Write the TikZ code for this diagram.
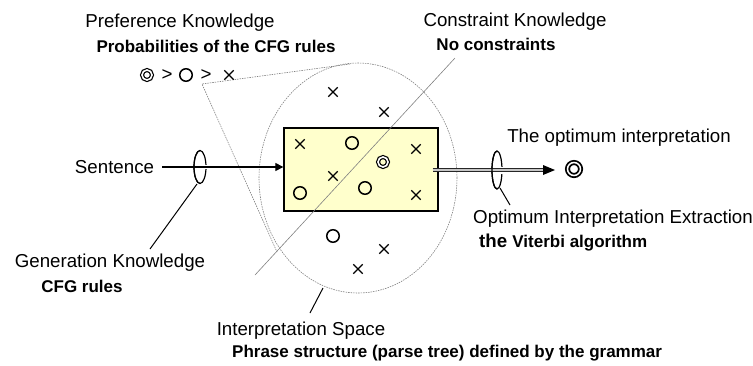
\documentclass[tikz,border=0pt]{standalone}
\usepackage{fontspec}
\setmainfont{Liberation Sans}
\usetikzlibrary{shapes.geometric,shapes.misc,arrows.meta,calc}
\definecolor{boxyellow}{RGB}{255,255,204}
\begin{document}
\begin{tikzpicture}[x=1pt,y=-1pt,
  lab/.style={font=\fontsize{18.7}{22}\selectfont, inner sep=0pt},
  blab/.style={font=\fontsize{17}{20}\selectfont\bfseries, inner sep=0pt},
  xm/.style={cross out, draw, minimum size=8pt, inner sep=0pt, line width=1.4pt},
  oc/.style={circle, draw, minimum size=12.5pt, inner sep=0pt, line width=1.5pt},
  dc/.style={circle, draw, double, double distance=1.6pt, line width=1.2pt, minimum size=10pt, inner sep=0pt},
  bigdc/.style={circle, draw, double, double distance=1.5pt, line width=1.8pt, minimum size=13pt, inner sep=0pt},
  thinline/.style={draw=gray, line width=0.6pt},
  dotline/.style={draw=gray, line width=0.6pt, dash pattern=on 1.5pt off 1pt},
  ring/.style={ellipse, draw, line width=1.2pt, inner sep=0pt, outer sep=0pt},
  pointer/.style={draw=black, line width=1pt},
  arr/.style={line width=1.2pt, -{Triangle[length=8pt,width=8pt]}},
]
\useasboundingbox (0,0) rectangle (753,365);

% interpretation space
\node[ellipse, dotline, minimum width=198pt, minimum height=230pt, inner sep=0pt] (space) at (358,178) {};

% preference cone
\coordinate (apex) at (202,84);
\coordinate (ct) at (350,64);
\coordinate (cb) at (277,252);
\draw[dotline] (ct) -- (apex) -- (cb);

% box
\node[draw, line width=1.3pt, fill=boxyellow, minimum width=154pt, minimum height=83pt, inner sep=0pt] (box) at (361,169.5) {};

% symbols inside box
\node[xm] (s1) at (300,144) {};
\node[oc] (s2) at (352,143) {};
\node[dc] (s3) at (383,162) {};
\node[xm] (s4) at (416,149) {};
\node[xm] (s5) at (333,176) {};
\node[oc] (s6) at (300,193) {};
\node[oc] (s7) at (365,188) {};
\node[xm] (s8) at (416,195) {};
% symbols outside box
\node[xm] (t1) at (333,92) {};
\node[xm] (t2) at (384,112) {};
\node[oc] (t3) at (333,236) {};
\node[xm] (t4) at (384,249) {};
\node[xm] (t5) at (358,269) {};

% constraint line
\coordinate (k1) at (455,58);
\coordinate (k2) at (255,275);
\draw[thinline] (k1) -- (k2);

% texts
\node[lab] (sent) at (114.5,167) {Sentence};
\node[lab] (genk) at (110,263) {Generation Knowledge};
\node[blab] (cfg) at (82,286) {CFG rules};
\node[lab] (prefk) at (180,23) {Preference Knowledge};
\node[blab] (prob) at (216,46) {Probabilities of the CFG rules};
\node[dc] (l1) at (147,75) {};
\node[lab] (gt1) at (167,75) {>};
\node[oc] (l2) at (186,75) {};
\node[lab] (gt2) at (206,75) {>};
\node[xm] (l3) at (229,75) {};
\node[lab] (conk) at (515,22) {Constraint Knowledge};
\node[blab] (noc) at (496,44) {No constraints};
\node[lab] (opti) at (619,138) {The optimum interpretation};
\node[bigdc] (out) at (574,169) {};
\node[lab, anchor=west] (oie) at (473,219) {Optimum Interpretation Extraction};
\node[anchor=west, inner sep=0pt] (vit) at (479,243) {\fontsize{18.7}{22}\selectfont\bfseries the \fontsize{17}{20}\selectfont Viterbi algorithm};
\node[lab] (isp) at (301,331) {Interpretation Space};
\node[blab, anchor=west] (phr) at (232,353) {Phrase structure (parse tree) defined by the grammar};

% sentence ring and arrow
\node[ring, minimum width=12pt, minimum height=33pt] (r1) at (200,167) {};
\draw[white, line width=3.5pt] (r1.center) -- ([xshift=2pt]r1.east);
\draw[arr] ([xshift=8pt]sent.east) -- (sent.east -| box.west);
\draw[line width=1.2pt] (r1.north) arc[start angle=90, end angle=270, x radius=6pt, y radius=16.5pt];
\coordinate (g1) at (197,184);
\coordinate (g2) at (150,249);
\draw[pointer] (g1) -- (g2);

% output ring and double arrow
\node[ring, minimum width=10pt, minimum height=38pt] (r2) at (497,170) {};
\draw[white, line width=7pt] (r2.center) -- ([xshift=2pt]r2.east);
\coordinate (d0) at ([xshift=-6pt]box.east);
\coordinate (d1) at (543,170);
\coordinate (tip) at (555,170);
\draw[draw=black!85, line width=1.6pt, double=gray!45, double distance=1.5pt] (d0 |- tip) -- (d1);
\fill[black] (tip) -- ++(-12,-5) -- ++(0,10) -- cycle;
\draw[line width=1.2pt] (r2.north) arc[start angle=90, end angle=270, x radius=5pt, y radius=19pt];
\coordinate (o1) at (500,188);
\coordinate (o2) at (510,205);
\draw[pointer] (o1) -- (o2);

% space pointer
\coordinate (p1) at (323,288);
\coordinate (p2) at (310,313);
\draw[pointer] (p1) -- (p2);
\end{tikzpicture}
\end{document}
